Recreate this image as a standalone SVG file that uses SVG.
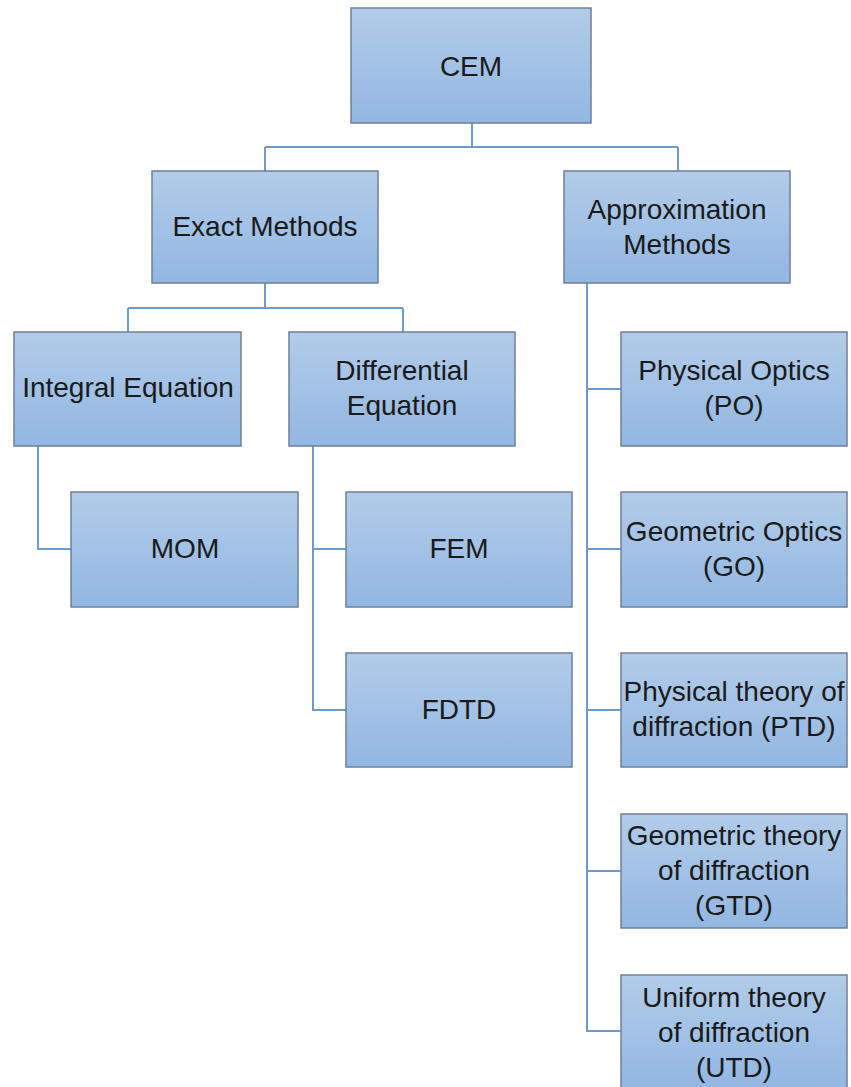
<svg xmlns="http://www.w3.org/2000/svg" width="851" height="1087" viewBox="0 0 851 1087">
<defs>
<linearGradient id="g" x1="0" y1="0" x2="0" y2="1">
<stop offset="0" stop-color="#b2cce9"/>
<stop offset="1" stop-color="#92b7e2"/>
</linearGradient>
<style>
.box{fill:url(#g);stroke:#6e8098;stroke-width:1.5}
.t{font-family:"Liberation Sans",Arial,sans-serif;font-size:28px;fill:#1a1a1a;text-anchor:middle}
.c{fill:none;stroke:#6c9ccc;stroke-width:2}
</style>
</defs>
<rect width="851" height="1087" fill="#ffffff"/>
<g id="connectors">
<path class="c" d="M472,123V147M265,147H678M265,147V171M678,147V171"/>
<path class="c" d="M265,283V308M128,308H403M128,308V332M403,308V332"/>
<path class="c" d="M38,446V549H71"/>
<path class="c" d="M313,446V710H346M313,549H346"/>
<path class="c" d="M587,283V1031H621M587,389H621M587,549H621M587,710H621M587,871H621"/>
</g>
<g id="cem"><rect class="box" x="351" y="8" width="240" height="115"/><text class="t" x="471" y="76">CEM</text></g>
<g id="exact"><rect class="box" x="152" y="171" width="226" height="112"/><text class="t" x="265" y="236">Exact Methods</text></g>
<g id="approx"><rect class="box" x="564" y="171" width="226" height="112"/><text class="t" x="677" y="219">Approximation</text><text class="t" x="677" y="254">Methods</text></g>
<g id="integral"><rect class="box" x="14" y="332" width="227" height="114"/><text class="t" x="128" y="397">Integral Equation</text></g>
<g id="differential"><rect class="box" x="289" y="332" width="226" height="114"/><text class="t" x="402" y="380">Differential</text><text class="t" x="402" y="415">Equation</text></g>
<g id="mom"><rect class="box" x="71" y="492" width="227" height="115"/><text class="t" x="185" y="558">MOM</text></g>
<g id="fem"><rect class="box" x="346" y="492" width="226" height="115"/><text class="t" x="459" y="558">FEM</text></g>
<g id="fdtd"><rect class="box" x="346" y="653" width="226" height="114"/><text class="t" x="459" y="719">FDTD</text></g>
<g id="po"><rect class="box" x="621" y="332" width="226" height="114"/><text class="t" x="734" y="380">Physical Optics</text><text class="t" x="734" y="415">(PO)</text></g>
<g id="go"><rect class="box" x="621" y="492" width="226" height="115"/><text class="t" x="734" y="541">Geometric Optics</text><text class="t" x="734" y="576">(GO)</text></g>
<g id="ptd"><rect class="box" x="621" y="653" width="226" height="114"/><text class="t" x="734" y="701">Physical theory of</text><text class="t" x="734" y="736">diffraction (PTD)</text></g>
<g id="gtd"><rect class="box" x="621" y="814" width="226" height="114"/><text class="t" x="734" y="845">Geometric theory</text><text class="t" x="734" y="880">of diffraction</text><text class="t" x="734" y="915">(GTD)</text></g>
<g id="utd"><rect class="box" x="621" y="975" width="226" height="114"/><text class="t" x="734" y="1007">Uniform theory</text><text class="t" x="734" y="1042">of diffraction</text><text class="t" x="734" y="1077">(UTD)</text></g>
</svg>
